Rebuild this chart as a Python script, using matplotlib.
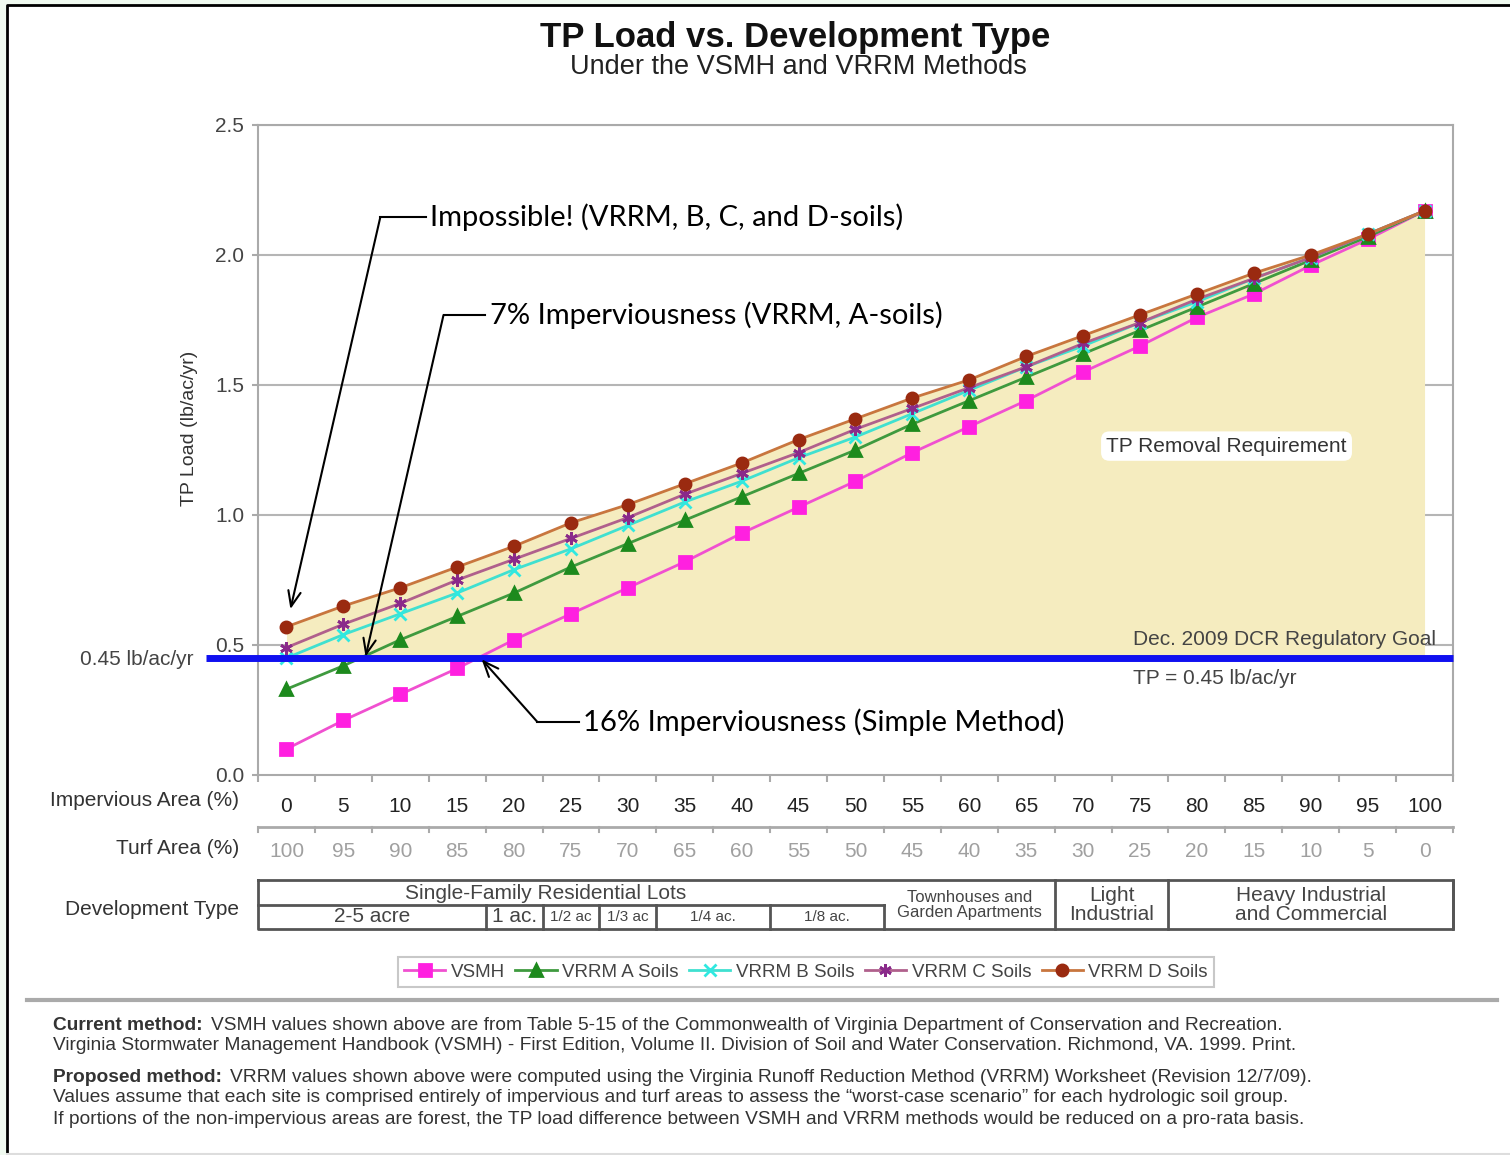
import numpy as np
import matplotlib.pyplot as plt
from matplotlib.lines import Line2D
from matplotlib.patches import Rectangle

# data
impervious = [0, 5, 10, 15, 20, 25, 30, 35, 40, 45, 50, 55, 60, 65, 70, 75, 80, 85, 90, 95, 100]
turf = [100 - v for v in impervious]

vsmh = [0.10, 0.21, 0.31, 0.41, 0.52, 0.62, 0.72, 0.82, 0.93, 1.03, 1.13,
        1.24, 1.34, 1.44, 1.55, 1.65, 1.76, 1.85, 1.96, 2.06, 2.17]
vrrm_a = [0.33, 0.42, 0.52, 0.61, 0.70, 0.80, 0.89, 0.98, 1.07, 1.16, 1.25,
          1.35, 1.44, 1.53, 1.62, 1.71, 1.80, 1.89, 1.98, 2.07, 2.17]
vrrm_b = [0.45, 0.54, 0.62, 0.70, 0.79, 0.87, 0.96, 1.05, 1.13, 1.22, 1.30,
          1.39, 1.48, 1.57, 1.65, 1.74, 1.82, 1.91, 1.99, 2.08, 2.17]
vrrm_c = [0.49, 0.58, 0.66, 0.75, 0.83, 0.91, 0.99, 1.08, 1.16, 1.24, 1.33,
          1.41, 1.49, 1.57, 1.66, 1.74, 1.83, 1.91, 1.99, 2.08, 2.17]
vrrm_d = [0.57, 0.65, 0.72, 0.80, 0.88, 0.97, 1.04, 1.12, 1.20, 1.29, 1.37,
          1.45, 1.52, 1.61, 1.69, 1.77, 1.85, 1.93, 2.00, 2.08, 2.17]

goal = 0.45

# development type table: (label, start index, end index) in category units
dev_top = [("Single-Family Residential Lots", -0.5, 10.5)]
dev_sub = [("2-5 acre", -0.5, 3.5), ("1 ac.", 3.5, 4.5), ("1/2 ac", 4.5, 5.5),
           ("1/3 ac", 5.5, 6.5), ("1/4 ac.", 6.5, 8.5), ("1/8 ac.", 8.5, 10.5)]
dev_big = [("Townhouses and\nGarden Apartments", 10.5, 13.5),
           ("Light\nIndustrial", 13.5, 15.5),
           ("Heavy Industrial\nand Commercial", 15.5, 20.5)]

series = [
    ("VSMH", vsmh, "#f050d0", "#ff20e0", "s", 8),
    ("VRRM A Soils", vrrm_a, "#3f9a3f", "#1d8a1d", "^", 8),
    ("VRRM B Soils", vrrm_b, "#40e0d0", "#30e8e0", "x", 8),
    ("VRRM C Soils", vrrm_c, "#b0608c", "#8a2a8a", (6, 2, 0), 9),
    ("VRRM D Soils", vrrm_d, "#c8763e", "#9a2a10", "o", 8),
]

plt.rcParams['font.family'] = ['Liberation Sans', 'DejaVu Sans']
W, H = 1510, 1155
fig = plt.figure(figsize=(W / 100, H / 100), dpi=100)
fig.patch.set_facecolor('#f0faf0')


def fx(px):
    return px / W


def fy(py):
    return 1 - py / H


# page frame: white sheet, black left/top edge, light bottom edge
fig.patches.append(Rectangle((fx(7), fy(1154)), 1, (1154 - 5) / H, transform=fig.transFigure,
                             facecolor='white', edgecolor='none', zorder=-10))
fig.add_artist(Line2D([fx(7), fx(7), 1.0], [fy(1154), fy(5), fy(5)], color='black', lw=2))
fig.add_artist(Line2D([fx(7), 1.0], [fy(1154), fy(1154)], color='#dddddd', lw=1.5))

x = np.arange(len(impervious))
ax = fig.add_axes([fx(258), fy(775), fx(1453) - fx(258), fy(125) - fy(775)])
ax.set_xlim(-0.5, 20.5)
ax.set_ylim(0, 2.5)

# removal requirement area
ax.fill_between(x, goal, vrrm_d, color='#f5ecbf', zorder=1, lw=0)
for yv in [0.5, 1.0, 1.5, 2.0, 2.5]:
    ax.axhline(yv, color='#b5b5b5', lw=1.5, zorder=0.5)

handles = []
for name, vals, lc, mc, mk, ms in series:
    ln, = ax.plot(x, vals, color=lc, lw=2, marker=mk, markersize=ms,
                  markerfacecolor=mc, markeredgecolor=mc, mew=2, zorder=3, label=name)
    handles.append(ln)

ax.plot([-1.42, 20.5], [goal, goal], color='#1010f0', lw=5, zorder=4, clip_on=False,
        solid_capstyle='butt')
ax.text(-1.63, goal - 0.005, "0.45 lb/ac/yr", ha='right', va='center', fontsize=15, color='#444444')
ax.text(14.88, 0.523, "Dec. 2009 DCR Regulatory Goal", ha='left', va='center',
        fontsize=15, color='#444444', zorder=5)
ax.text(14.88, 0.373, "TP = 0.45 lb/ac/yr", ha='left', va='center', fontsize=15, color='#444444')
ax.text(16.52, 1.265, "TP Removal Requirement", ha='center', va='center', fontsize=15,
        color='#333333', zorder=5,
        bbox=dict(boxstyle='round,pad=0.25,rounding_size=0.4', fc='white', ec='none'))

for sp in ax.spines.values():
    sp.set_color('#aaaaaa')
    sp.set_linewidth(1.5)

ax.set_yticks([0, 0.5, 1.0, 1.5, 2.0, 2.5])
ax.set_yticklabels(["%.1f" % v for v in [0, 0.5, 1.0, 1.5, 2.0, 2.5]])
ax.tick_params(axis='y', labelsize=15, labelcolor='#444444', color='#aaaaaa', length=4,
               width=1.5, pad=6)
ax.set_ylabel("TP Load (lb/ac/yr)", fontsize=14, color='#333333')
ax.yaxis.set_label_coords(-0.05, 0.534)

ax.set_xticks(x)
ax.set_xticklabels([str(v) for v in impervious])
ax.tick_params(axis='x', which='major', length=0, pad=16, labelsize=15, labelcolor='#222222')
ax.set_xticks(np.arange(-0.5, 21, 1), minor=True)
ax.tick_params(axis='x', which='minor', length=5, width=1.5, color='#aaaaaa')

# annotations
notes = [
    ("Impossible! (VRRM, B, C, and D-soils)", (2.53, 2.146), (1.65, 2.146), (0.07, 0.638)),
    ("7% Imperviousness (VRRM, A-soils)", (3.57, 1.769), (2.76, 1.769), (1.39, 0.455)),
    ("16% Imperviousness (Simple Method)", (5.22, 0.204), (4.41, 0.204), (3.43, 0.445)),
]
for txt, tpos, kink, tgt in notes:
    ax.text(tpos[0], tpos[1], txt, fontsize=21, family='Lato', ha='left', va='center',
            color='black', zorder=6)
    ax.plot([kink[0], tpos[0] - 0.08], [kink[1], kink[1]], color='black', lw=1.5,
            zorder=6, clip_on=False)
    ax.annotate('', xy=tgt, xytext=kink,
                arrowprops=dict(arrowstyle='->,head_length=1.1,head_width=0.45',
                                color='black', lw=1.5, shrinkA=0, shrinkB=0), zorder=6)

ax.text(-0.5 - 0.33, -0.1, "Impervious Area (%)", ha='right',
        va='center', fontsize=15, color='#333333')

# lower rows (turf area and development type) in pixel-like y units
tb = fig.add_axes([fx(258), fy(940), fx(1453) - fx(258), fy(815) - fy(940)])
tb.set_xlim(-0.5, 20.5)
tb.set_ylim(940, 815)
tb.axis('off')

tb.plot([-0.5, 20.5], [827, 827], color='#aaaaaa', lw=2, clip_on=False)
for b in np.arange(-0.5, 21, 1):
    tb.plot([b, b], [827, 832], color='#aaaaaa', lw=1.5, clip_on=False)
for i, t in enumerate(turf):
    tb.text(i, 852, str(t), ha='center', va='center', fontsize=15, color='#a0a0a0')
tb.text(-0.5 - 0.33, 849, "Turf Area (%)", ha='right', va='center', fontsize=15, color='#333333')
tb.text(-0.5 - 0.33, 910, "Development Type", ha='right', va='center', fontsize=15, color='#333333')

box_kw = dict(color='#555555', lw=2, clip_on=False)
tb.plot([-0.5, 20.5, 20.5, -0.5, -0.5], [880, 880, 929, 929, 880], **box_kw)
tb.plot([-0.5, 10.5], [905, 905], **box_kw)
for name, a, b in dev_top:
    tb.text(4.55, 894, name, ha='center', va='center', fontsize=15, color='#444444')
for name, a, b in dev_sub:
    tb.plot([b, b], [905, 929], **box_kw)
    fs = 15 if name in ("2-5 acre", "1 ac.") else 11
    tb.text((a + b) / 2, 917, name, ha='center', va='center', fontsize=fs, color='#444444')
for name, a, b in dev_big:
    tb.plot([b, b], [880, 929], **box_kw)
    fs = 12 if name.startswith("Town") else 15
    tb.text((a + b) / 2, 905, name, ha='center', va='center', fontsize=fs, color='#444444',
            linespacing=0.95)

leg = fig.legend(handles=handles, loc='center', bbox_to_anchor=(fx(806), fy(972)), ncol=5,
                 fontsize=13.5, frameon=True, fancybox=False, edgecolor='#bbbbbb',
                 handlelength=2.2, handletextpad=0.3, columnspacing=0.55, borderpad=0.35,
                 labelcolor='#444444')
leg.get_frame().set_linewidth(1.5)

# titles
fig.text(fx(795), fy(37), "TP Load vs. Development Type", ha='center', va='center',
         fontsize=25, fontweight='bold', color='#111111')
fig.text(fx(798), fy(67), "Under the VSMH and VRRM Methods", ha='center', va='center',
         fontsize=19.5, color='#222222')

# separator and notes
fig.add_artist(Line2D([fx(27), fx(1497)], [fy(1000), fy(1000)], color='#aaaaaa', lw=3))

notes_lines = [
    (1025, "Current method:", "VSMH values shown above are from Table 5-15 of the Commonwealth of Virginia Department of Conservation and Recreation."),
    (1046, "", "Virginia Stormwater Management Handbook (VSMH) - First Edition, Volume II. Division of Soil and Water Conservation. Richmond, VA. 1999. Print."),
    (1077, "Proposed method:", "VRRM values shown above were computed using the Virginia Runoff Reduction Method (VRRM) Worksheet (Revision 12/7/09)."),
    (1098, "", "Values assume that each site is comprised entirely of impervious and turf areas to assess the \u201cworst-case scenario\u201d for each hydrologic soil group."),
    (1119, "", "If portions of the non-impervious areas are forest, the TP load difference between VSMH and VRRM methods would be reduced on a pro-rata basis."),
]
for py, bold, rest in notes_lines:
    if bold:
        t = fig.text(fx(53), fy(py), bold, ha='left', va='center', fontsize=13.8,
                     fontweight='bold', color='#333333')
        ax.annotate(rest, xy=(1, 0.5), xycoords=t, xytext=(6, 0), textcoords='offset points',
                    ha='left', va='center', fontsize=13.8, color='#333333', annotation_clip=False)
    else:
        fig.text(fx(53), fy(py), rest, ha='left', va='center', fontsize=13.8, color='#333333')

fig.savefig('out.png', dpi=100)
